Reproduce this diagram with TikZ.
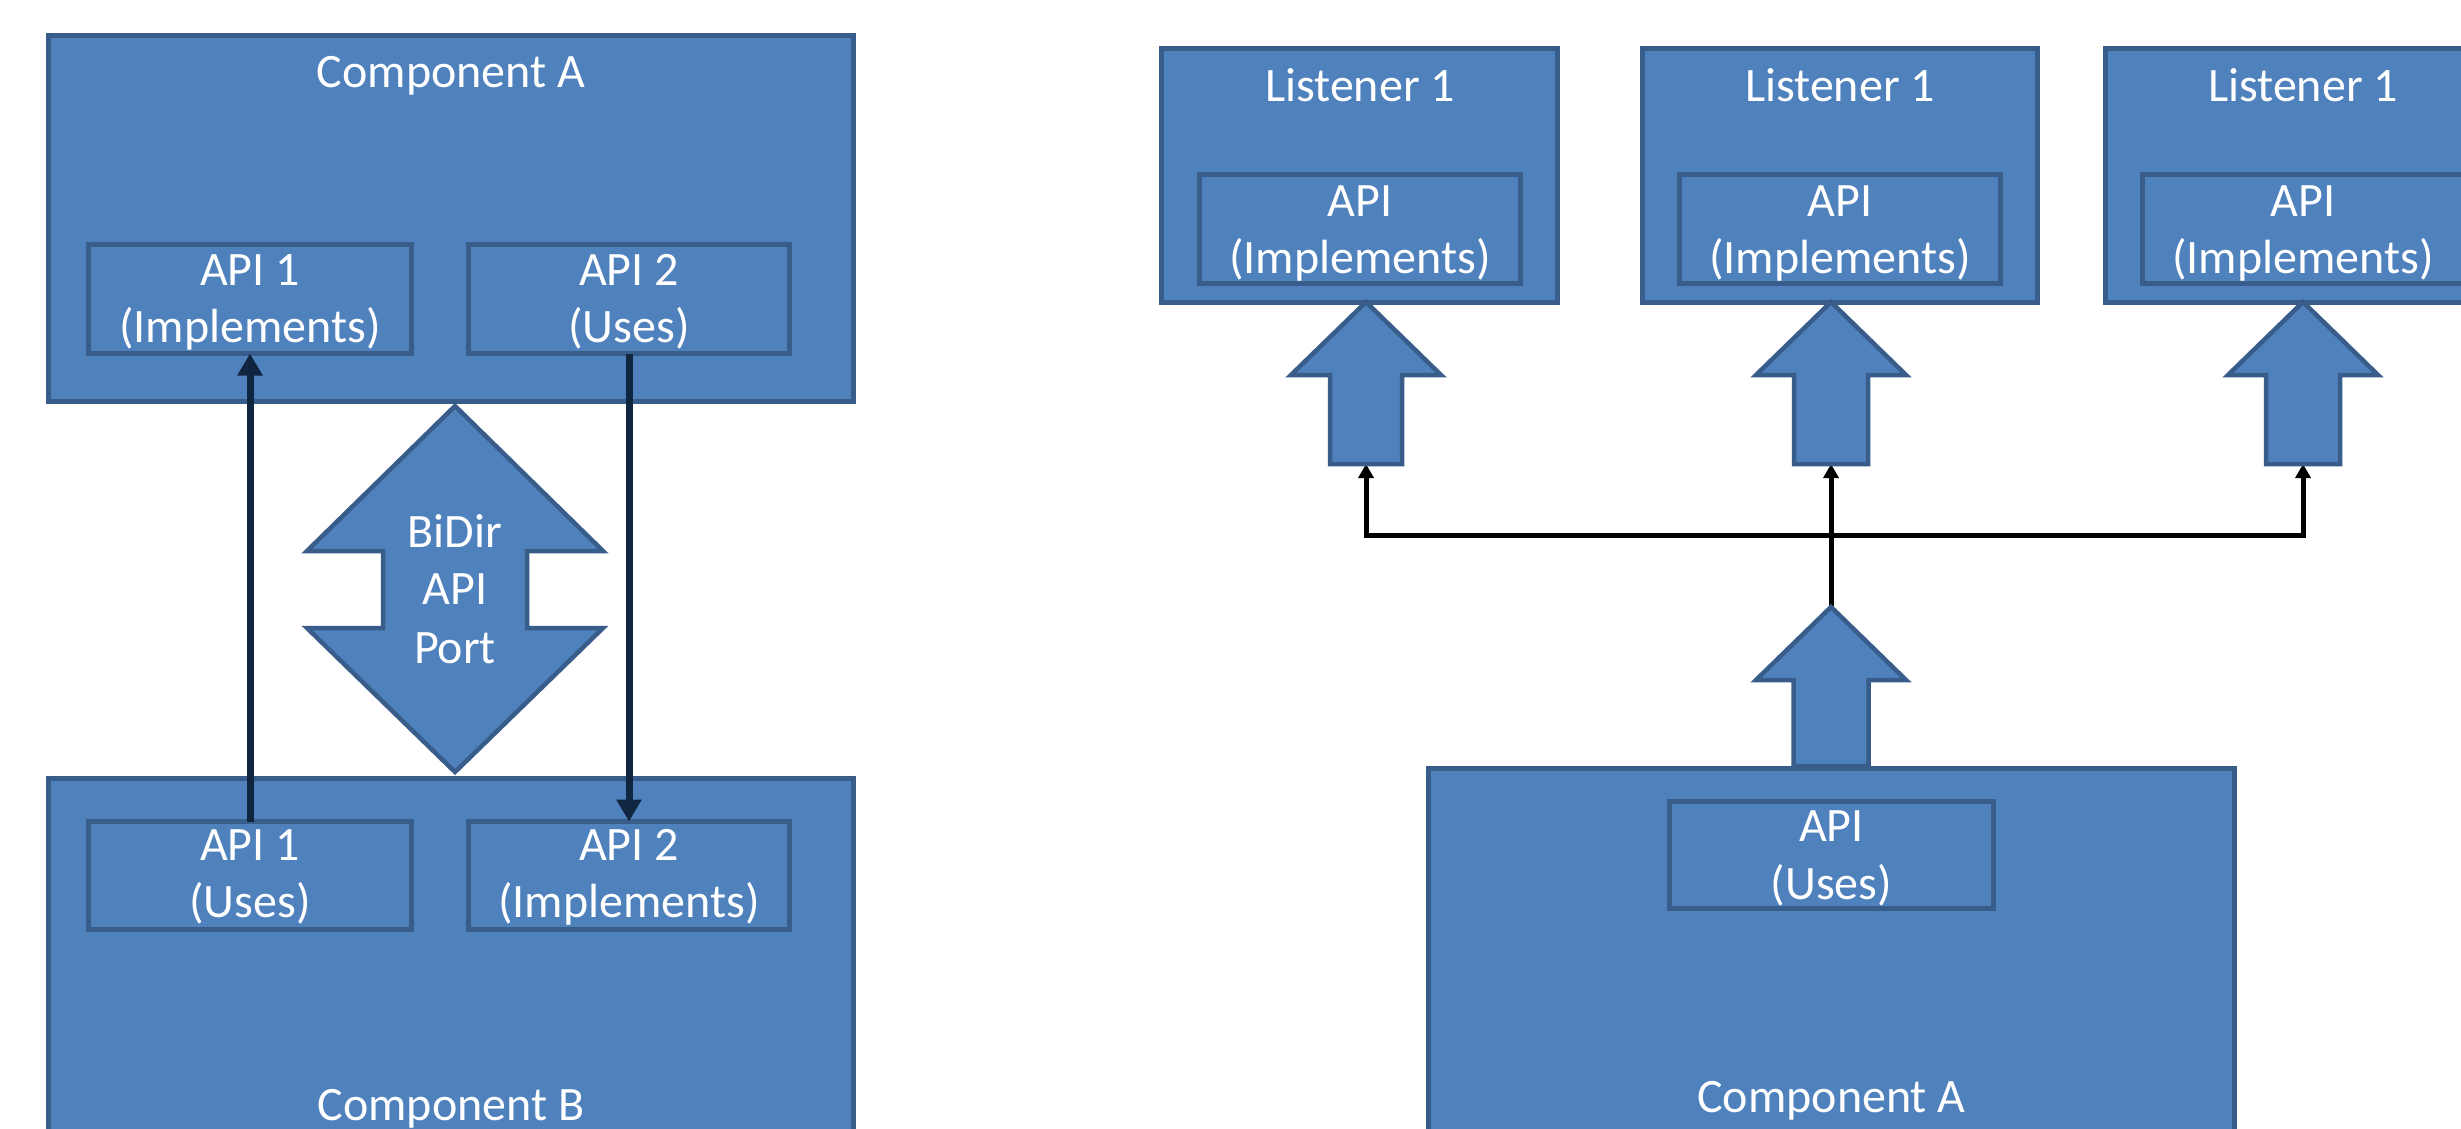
\documentclass[tikz,border=0pt]{standalone}
\usepackage{fontspec}
\setmainfont{Carlito}
\usetikzlibrary{arrows.meta}
\definecolor{shapefill}{HTML}{4F81BD}
\definecolor{shapeline}{HTML}{385D8A}
\definecolor{navyline}{HTML}{10253F}

% fat upward block arrow: tip x, tip y, bottom y, shaft half width
\newcommand{\fatuparrow}[4]{%
  \draw[blockarrow] (#1,#2) -- (#1+75,#2+73) -- (#1+#4,#2+73) -- (#1+#4,#3)
    -- (#1-#4,#3) -- (#1-#4,#2+73) -- (#1-75,#2+73) -- cycle;}

\begin{document}
\begin{tikzpicture}[x=1pt,y=-1pt,
  blk/.style={draw=shapeline, fill=shapefill, line width=5pt, rectangle,
              inner sep=0pt, outer sep=0pt},
  blockarrow/.style={draw=shapeline, fill=shapefill, line width=4.5pt, line join=miter},
  lbl/.style={text=white, font=\fontsize{48}{57}\selectfont, inner sep=0pt, anchor=base},
  apiflow/.style={draw=navyline, line width=7pt, -{Triangle[length=22pt,width=24pt]}},
  fanout/.style={draw=black, line width=5pt, -{Triangle[length=14pt,width=15pt]}},
]
\useasboundingbox (0,0) rectangle (2461,1129);
\clip (0,0) rectangle (2461,1129);
\fill[white] (0,0) rectangle (2461,1129);

% ---------- left: bidirectional port between two components ----------
\node[blk, minimum width=805pt, minimum height=366pt] (compA) at (451,218.5) {};
\node[blk, minimum width=323pt, minimum height=109pt] (apiAone) at (250,299) {};
\node[blk, minimum width=321pt, minimum height=109pt] (apiAtwo) at (629,299) {};

\node[blk, minimum width=805pt, minimum height=421.5pt] (compB) at (451,989.25) {};
\node[blk, minimum width=323pt, minimum height=108pt] (apiBone) at (250,875.5) {};
\node[blk, minimum width=321pt, minimum height=108pt] (apiBtwo) at (629,875.5) {};

% double-headed port arrow
\draw[blockarrow] (455,406) -- (603,551) -- (527,551) -- (527,628) -- (603,628)
  -- (455,772) -- (307,628) -- (383,628) -- (383,551) -- (307,551) -- cycle;

\node[lbl] (tCompA) at (451,88) {Component A};
\node[lbl] (tAoneA) at (250,285) {API 1};
\node[lbl] (tAoneB) at (250,342) {(Implements)};
\node[lbl] (tAtwoA) at (629,285) {API 2};
\node[lbl] (tAtwoB) at (629,342) {(Uses)};
\node[lbl] (tPortA) at (455,547) {BiDir};
\node[lbl] (tPortB) at (455,604) {API};
\node[lbl] (tPortC) at (455,663) {Port};
\node[lbl] (tBoneA) at (250,860) {API 1};
\node[lbl] (tBoneB) at (250,917) {(Uses)};
\node[lbl] (tBtwoA) at (629,860) {API 2};
\node[lbl] (tBtwoB) at (629,917) {(Implements)};
\node[lbl] (tCompB) at (451,1120) {Component B};

\draw[apiflow] (apiBone.north) -- (apiAone.south);
\draw[apiflow] (apiAtwo.south) -- (apiBtwo.north);

% ---------- right: one component fanning out to listeners ----------
\node[blk, minimum width=396pt, minimum height=254pt] (lisOne) at (1359.5,175.5) {};
\node[blk, minimum width=395pt, minimum height=254pt] (lisTwo) at (1840,175.5) {};
\node[blk, minimum width=396pt, minimum height=254pt] (lisThree) at (2303,175.5) {};
\node[blk, minimum width=321pt, minimum height=109pt] (lisOneApi) at (1360,229) {};
\node[blk, minimum width=321pt, minimum height=109pt] (lisTwoApi) at (1840,229) {};
\node[blk, minimum width=321pt, minimum height=109pt] (lisThreeApi) at (2303,229) {};

\node[blk, minimum width=806pt, minimum height=431.5pt] (compR) at (1831.5,984.25) {};
\node[blk, minimum width=324pt, minimum height=107pt] (apiR) at (1831.5,855) {};

\foreach \cx/\nm in {1360/One, 1840/Two, 2303/Three}{
  \node[lbl] (tLis\nm) at (\cx,102) {Listener 1};
  \node[lbl] (tLisApi\nm) at (\cx,216) {API};
  \node[lbl] (tLisImp\nm) at (\cx,273) {(Implements)};
}
\node[lbl] (tApiR) at (1831.5,841) {API};
\node[lbl] (tUsesR) at (1831.5,899) {(Uses)};
\node[lbl] (tCompR) at (1831.5,1112) {Component A};

% connection points at the block arrows
\coordinate (inOne) at (1366,464);
\coordinate (inTwo) at (1831,464);
\coordinate (inThree) at (2303,464);
\coordinate (outTip) at (1831,607);
\coordinate (hub) at (1831,535);

\draw[fanout] (outTip) -- (inTwo);
\draw[fanout] (hub) -| (inOne);
\draw[fanout] (hub) -| (inThree);

\fatuparrow{1366}{302}{464}{36}
\fatuparrow{1831}{302}{464}{37}
\fatuparrow{2303}{302}{464}{37}
\fatuparrow{1831}{607}{766}{37.5}
\end{tikzpicture}
\end{document}
